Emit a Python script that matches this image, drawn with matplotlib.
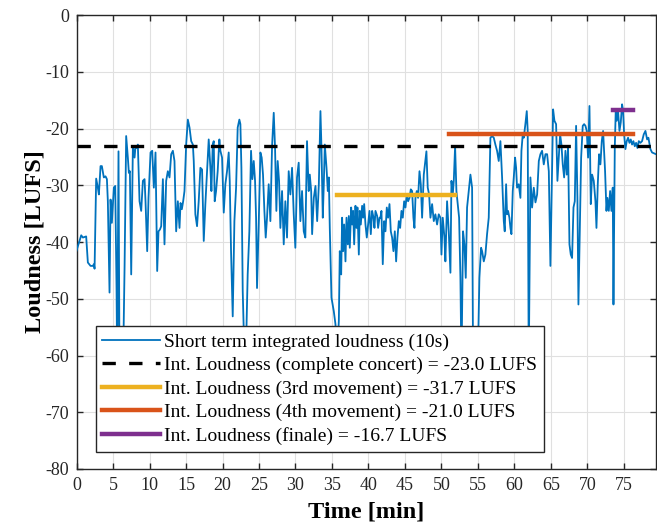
import matplotlib
matplotlib.use('Agg')
import matplotlib.pyplot as plt

# === Daten ===
t_min = [
    0.00, 0.64, 0.87, 1.32, 1.55, 1.92, 2.24, 2.37, 2.47, 2.69, 2.92, 3.06, 3.29, 3.47, 3.74,
    3.97, 4.16, 4.29, 4.52, 4.66, 4.84, 5.11, 5.30, 5.48, 5.57, 5.75, 5.89, 6.12, 6.35, 6.58,
    6.80, 7.03, 7.17, 7.31, 7.49, 7.72, 7.95, 8.08, 8.26, 8.40, 8.63, 8.86, 9.09, 9.32, 9.45,
    9.68, 9.86, 10.14, 10.37, 10.59, 10.82, 11.05, 11.23, 11.42, 11.60, 11.83, 12.05, 12.28,
    12.51, 12.74, 12.97, 13.20, 13.42, 13.65, 13.88, 14.11, 14.25, 14.43, 14.61, 14.79, 15.02,
    15.25, 15.48, 15.71, 15.94,
    16.06, 16.28, 16.51, 16.74, 16.97, 17.20, 17.43, 17.65, 17.88, 18.11, 18.34, 18.48, 18.66,
    18.80, 18.93, 19.12, 19.34, 19.57, 19.71, 19.94, 20.17, 20.39, 20.62, 20.85, 20.99, 21.17,
    21.40, 21.63, 21.86, 22.08, 22.31, 22.45, 22.59, 22.77, 23.04, 23.27, 23.45, 23.68, 23.91,
    24.09, 24.28, 24.46, 24.60, 24.73, 24.96, 25.19, 25.37, 25.55, 25.74, 25.92, 26.10, 26.33,
    26.56, 26.79, 27.02, 27.20, 27.38, 27.56, 27.75, 27.93, 28.16, 28.39, 28.61, 28.84, 29.07,
    29.30, 29.53, 29.76, 29.98, 30.21, 30.44, 30.67, 30.90, 31.13, 31.35, 31.58, 31.81,
    31.96, 32.15, 32.28, 32.51, 32.74, 32.97, 33.20, 33.42, 33.56, 33.74, 33.88, 34.02, 34.25,
    34.43, 34.57, 34.70, 34.93, 35.25, 35.48, 35.71, 35.94, 36.07, 36.26, 36.39, 36.53, 36.67,
    36.85, 36.99, 37.17, 37.31, 37.44, 37.63, 37.76, 37.90, 38.04, 38.22, 38.36, 38.49, 38.68,
    38.81, 38.95, 39.13, 39.27, 39.41, 39.59, 39.77, 39.95, 40.14, 40.32, 40.50, 40.69, 40.82,
    40.96, 41.19, 41.32, 41.51, 41.64, 41.78, 41.96, 42.15, 42.33, 42.51, 42.69, 42.88, 43.06,
    43.24, 43.42, 43.61, 43.79, 43.97, 44.16, 44.34, 44.52, 44.70, 44.89, 45.07, 45.25, 45.43,
    45.62, 45.80, 45.98, 46.16, 46.30, 46.44, 46.62, 46.80, 46.99, 47.17, 47.35, 47.58,
    47.94, 48.12, 48.31, 48.49, 48.72, 48.95, 49.17, 49.40, 49.63, 49.86, 50.00, 50.18, 50.41,
    50.54, 50.77, 51.00, 51.23, 51.37, 51.55, 51.69, 51.87, 52.05, 52.23, 52.42, 52.60, 52.74,
    52.96, 53.15, 53.33, 53.51, 53.74, 53.97, 54.20, 54.33, 54.65, 54.97, 55.20, 55.43, 55.57,
    55.80, 56.02, 56.25, 56.48, 56.71, 56.94, 57.17, 57.39, 57.62, 57.85, 58.08, 58.31, 58.54,
    58.67, 58.86, 58.99, 59.13, 59.31, 59.45, 59.59, 59.77, 59.91, 60.09, 60.23, 60.36, 60.59,
    60.82, 60.96, 61.14, 61.28, 61.50, 61.69, 61.82, 61.96, 62.19, 62.42, 62.65,
    62.88, 63.11, 63.34, 63.56, 63.79, 64.02, 64.25, 64.48, 64.71, 64.93, 65.16, 65.30, 65.48,
    65.71, 65.89, 66.08, 66.26, 66.44, 66.62, 66.81, 66.99, 67.17, 67.35, 67.54, 67.72, 67.90,
    68.09, 68.27, 68.45, 68.63, 68.77, 68.95, 69.14, 69.36, 69.55, 69.73, 69.91, 70.09, 70.28,
    70.46, 70.64, 70.87, 71.10, 71.24, 71.42, 71.60, 71.78, 71.97, 72.15, 72.29, 72.42, 72.61,
    72.74, 72.93, 73.11, 73.29, 73.47, 73.57, 73.75, 73.88, 74.02, 74.20, 74.39, 74.57, 74.75,
    74.89, 75.03, 75.21, 75.39, 75.57, 75.76, 75.94, 76.12, 76.30, 76.49, 76.67, 76.85, 77.04,
    77.26, 77.49, 77.72, 77.95, 78.18, 78.36, 78.63, 78.86, 79.40,
]
loud_lufs = [
    -41.5, -38.8, -39.2, -39.0, -43.6, -44.2, -44.2, -43.9, -44.7, -28.8, -30.4, -31.6, -26.6, -26.6, -28.6,
    -28.4, -28.9, -32.8, -48.9, -32.5, -36.6, -30.4, -30.1, -48.1, -62.0, -24.0, -63.0, -58.0, -64.0, -44.5,
    -21.3, -25.1, -27.8, -27.5, -45.7, -23.1, -25.1, -23.1, -23.4, -22.8, -32.8, -34.5, -29.2, -28.9, -32.8,
    -41.6, -32.2, -24.2, -23.9, -30.4, -24.2, -45.1, -38.1, -37.8, -37.2, -28.9, -40.4, -29.2,
    -27.5, -28.6, -24.5, -23.9, -25.7, -38.1, -32.8, -37.5, -33.1, -34.2, -32.8, -31.0, -22.8,
    -18.4, -19.8, -22.2, -22.8,
    -25.7, -35.1, -37.2, -32.8, -26.9, -27.2, -39.8, -33.3, -27.5, -21.9, -26.9, -31.0, -22.8,
    -22.2, -32.8, -31.0, -27.5, -21.9, -23.9, -25.1, -34.8, -29.8, -27.5, -24.2, -29.2, -41.6,
    -53.1, -36.3, -30.4, -19.8, -18.4, -19.2, -26.9, -48.6, -62.0, -56.0, -45.7, -38.1, -23.9,
    -28.9, -25.7, -29.2, -35.7, -48.1, -36.9, -24.2, -25.1, -28.1, -34.5, -39.2, -35.7, -29.8,
    -36.3, -23.1, -17.2, -23.4, -34.5, -25.7, -29.2, -37.5, -31.0, -40.4, -32.8, -39.2, -27.5,
    -31.6, -26.9, -35.1, -41.0, -28.6, -26.0, -36.3, -31.0, -38.1, -39.2, -22.2, -31.0,
    -28.1, -31.0, -38.6, -32.2, -30.1, -36.3, -29.8, -16.9, -23.4, -35.7, -29.8, -22.8, -26.9,
    -31.0, -28.6, -37.5, -49.8, -52.2, -54.5, -60.0, -53.9, -41.6, -45.7, -35.7, -41.6, -36.9,
    -43.4, -35.7, -40.4, -35.4, -41.0, -33.9, -36.9, -34.5, -40.4, -33.6, -37.5, -33.9, -42.2,
    -34.5, -36.9, -33.6, -35.7, -33.3, -36.9, -39.2, -36.9, -34.5, -38.6, -34.5, -35.7, -37.5,
    -34.5, -35.4, -37.5, -35.7, -35.7, -34.5, -43.9, -36.3, -38.1, -33.9, -35.7, -33.3, -38.1,
    -39.2, -41.6, -38.1, -43.4, -39.2, -36.3, -37.5, -34.5, -35.7, -32.8, -33.9, -31.6, -32.8,
    -32.2, -30.7, -31.0, -35.7, -37.5, -32.2, -31.0, -32.2, -27.5, -29.8, -35.7, -28.1,
    -24.0, -30.4, -31.6, -35.7, -33.3, -36.3, -35.1, -36.9, -35.1, -35.7, -42.2, -35.7, -39.2,
    -43.4, -32.8, -38.1, -45.4, -29.2, -31.6, -29.2, -23.1, -31.0, -33.3, -35.7, -46.3, -62.0,
    -38.1, -40.4, -46.3, -33.9, -31.0, -28.1, -30.4, -60.0, -66.0, -62.0, -46.3, -41.0, -41.6,
    -43.4, -42.2, -38.6, -35.7, -21.6, -21.3, -21.6, -22.8, -23.9, -25.7, -22.2, -28.6, -36.3,
    -38.1, -29.8, -35.1, -34.5, -35.7, -37.5, -38.6, -31.0, -28.6, -25.1, -26.9, -30.4, -29.8,
    -32.2, -23.9, -21.0, -21.6, -19.2, -16.9, -20.4, -62.0, -28.6, -33.9, -30.4,
    -33.0, -31.6, -25.7, -24.5, -23.9, -26.3, -24.5, -24.5, -27.5, -44.2, -27.5, -16.6, -18.6,
    -19.2, -29.2, -25.1, -21.0, -22.8, -26.3, -28.6, -23.9, -28.1, -23.4, -40.4, -42.2, -42.8,
    -33.9, -32.8, -19.5, -32.2, -51.0, -38.6, -25.1, -19.5, -19.2, -19.5, -20.4, -25.1, -16.0,
    -33.3, -28.1, -29.2, -32.8, -37.5, -29.8, -24.5, -26.3, -22.2, -20.4, -23.9, -27.5, -34.5,
    -32.2, -34.5, -31.0, -34.5, -30.4, -51.0, -23.4, -16.9, -18.6, -16.9, -20.4, -18.9, -15.7,
    -16.9, -21.0, -23.6, -22.2, -21.6, -22.5, -21.9, -22.8, -22.2, -23.1, -22.5, -23.4, -22.2,
    -22.5, -22.2, -21.0, -20.4, -21.9, -21.6, -23.6, -24.2, -24.5,
]

# integrierte Lautheit: Wert, Start, Ende [min]
il_concert = -23.0
il_mov3, mov3_range = -31.7, (35.7, 51.8)
il_mov4, mov4_range = -21.0, (51.0, 76.2)
il_finale, finale_range = -16.7, (73.5, 76.2)

labels = [
    'Short term integrated loudness (10s)',
    f'Int. Loudness (complete concert) = {il_concert:.1f} LUFS',
    f'Int. Loudness (3rd movement) = {il_mov3:.1f} LUFS',
    f'Int. Loudness (4th movement) = {il_mov4:.1f} LUFS',
    f'Int. Loudness (finale) = {il_finale:.1f} LUFS',
]

plt.rcParams['font.family'] = ['Liberation Serif', 'DejaVu Serif']
plt.rcParams['axes.unicode_minus'] = False
plt.rcParams['axes.edgecolor'] = '#262626'
plt.rcParams['xtick.color'] = '#262626'
plt.rcParams['ytick.color'] = '#262626'

fig = plt.figure(figsize=(6.57, 5.26), dpi=100)
ax = fig.add_axes([0.1165, 0.1085, 0.882, 0.8625])

ax.plot(t_min, loud_lufs, color='#0072BD', lw=1.3, label=labels[0], zorder=3)
ax.axhline(il_concert, color='black', lw=2.4, ls=(0, (4.0, 4.0)), label=labels[1], zorder=4)
ax.plot(mov3_range, [il_mov3, il_mov3], color='#EDB120', lw=3.2, label=labels[2], zorder=4)
ax.plot(mov4_range, [il_mov4, il_mov4], color='#D95319', lw=3.2, label=labels[3], zorder=4)
ax.plot(finale_range, [il_finale, il_finale], color='#7E2F8E', lw=3.2, label=labels[4], zorder=4)

ax.set_xlim(0, 79.4)
ax.set_ylim(-80, 0)
ax.set_xticks(range(0, 80, 5))
ax.set_yticks(range(-80, 1, 10))
ax.tick_params(direction='in', top=True, right=True, length=4, width=1.0, labelsize=13)
ax.tick_params(axis='x', pad=6)
ax.tick_params(axis='y', pad=5.5)
ax.grid(True, color='#e0e0e0', lw=0.8)
ax.set_axisbelow(True)
for s in ax.spines.values():
    s.set_linewidth(1.0)

ax.set_xlabel('Time [min]', fontsize=17.5, fontweight='bold', labelpad=5)
ax.set_ylabel('Loudness [LUFS]', fontsize=17.5, fontweight='bold', labelpad=0)

leg = ax.legend(loc='lower left', bbox_to_anchor=(0.033, 0.038), fontsize=14,
                fancybox=False, framealpha=1, edgecolor='#262626', handlelength=2.95,
                handletextpad=0.2, labelspacing=0.3, borderpad=0.35, borderaxespad=0)
leg.get_frame().set_linewidth(1.0)
leg.set_zorder(10)

plt.savefig('out.png', dpi=100)
plt.close()
